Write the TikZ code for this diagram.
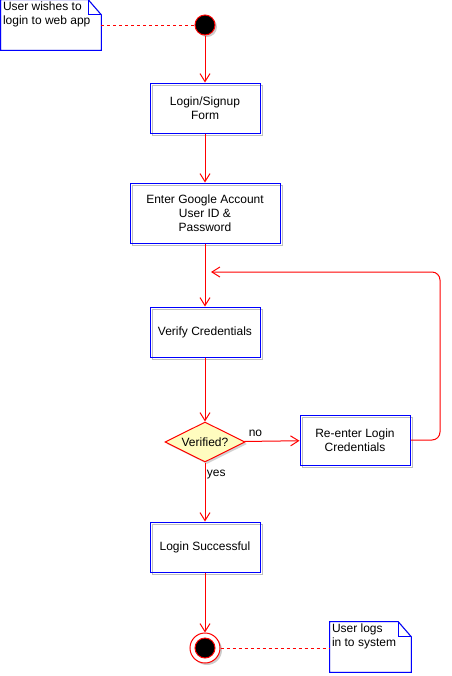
\documentclass[tikz,border=0pt]{standalone}
\usepackage{fontspec}
\setmainfont{Liberation Sans}
\usetikzlibrary{shapes.geometric,arrows.meta,shadows}

\begin{document}
\begin{tikzpicture}[x=0.75pt,y=-0.75pt,
	every node/.style={font=\fontsize{9}{10.5}\selectfont},
	greyshadow/.style={general shadow={shadow xshift=1.5pt,shadow yshift=-1.5pt,draw=gray!50,fill=none}},
	actbox/.style={rectangle,draw=blue,line width=0.75pt,align=center,minimum width=82.5pt,minimum height=37.5pt,inner sep=2pt,greyshadow},
	decision/.style={diamond,aspect=2,draw=red,line width=0.75pt,fill=yellow!25,inner sep=0pt,minimum width=60pt,minimum height=30pt,general shadow={shadow xshift=1.5pt,shadow yshift=-1.5pt,fill=gray!35}},
	startdot/.style={circle,draw=red,line width=0.75pt,fill=black,minimum size=15pt,inner sep=0pt},
	notebox/.style={rectangle,minimum width=75pt,minimum height=37.5pt,inner sep=0pt},
	notetext/.style={align=left,inner sep=1.5pt,anchor=north west},
	flow/.style={draw=red,line width=0.75pt,-{Straight Barb[length=6pt,width=7.5pt]}},
	noteline/.style={draw=red,line width=0.6pt,dash pattern=on 2.25pt off 2.25pt}
]
	\useasboundingbox (0,0) rectangle (451,676);
	% notes
	\node[notebox] (note1) at (51,25) {};
	\draw[gray!50,line width=0.75pt,xshift=1.5pt,yshift=-1.5pt] (note1.north west) -- ([xshift=-9.75pt]note1.north east) -- ([yshift=-11.25pt]note1.north east) -- (note1.south east) -- (note1.south west) -- cycle;
	\draw[blue,line width=0.75pt] (note1.north west) -- ([xshift=-9.75pt]note1.north east) -- ([yshift=-11.25pt]note1.north east) -- (note1.south east) -- (note1.south west) -- cycle;
	\draw[blue,line width=0.75pt] ([xshift=-9.75pt]note1.north east) -- ([xshift=-9.75pt,yshift=-11.25pt]note1.north east) -- ([yshift=-11.25pt]note1.north east);
	\node[notetext] (note1text) at (note1.north west) {User wishes to\\login to web app};
	\node[notebox,minimum width=60.75pt] (note2) at (370.5,647) {};
	\draw[gray!50,line width=0.75pt,xshift=1.5pt,yshift=-1.5pt] (note2.north west) -- ([xshift=-9.75pt]note2.north east) -- ([yshift=-11.25pt]note2.north east) -- (note2.south east) -- (note2.south west) -- cycle;
	\draw[blue,line width=0.75pt] (note2.north west) -- ([xshift=-9.75pt]note2.north east) -- ([yshift=-11.25pt]note2.north east) -- (note2.south east) -- (note2.south west) -- cycle;
	\draw[blue,line width=0.75pt] ([xshift=-9.75pt]note2.north east) -- ([xshift=-9.75pt,yshift=-11.25pt]note2.north east) -- ([yshift=-11.25pt]note2.north east);
	\node[notetext] (note2text) at (note2.north west) {User logs\\in to system};
	% activities
	\node[startdot,general shadow={shadow xshift=1.5pt,shadow yshift=-1.5pt,fill=gray!40,draw=none}] (start) at (205,25) {};
	\node[actbox] (form) at (205,108) {Login/Signup\\Form};
	\node[actbox,minimum width=112.5pt,minimum height=45pt] (enter) at (205,213) {Enter Google Account\\User ID \&\\Password};
	\node[actbox] (verify) at (205,332) {Verify Credentials};
	\node[decision] (check) at (205,442) {Verified?};
	\node[actbox] (reenter) at (355,440) {Re-enter Login\\Credentials};
	\node[actbox] (success) at (205,547) {Login Successful};
	\node[circle,draw=red,line width=0.75pt,fill=white,minimum size=22.5pt,inner sep=0pt,general shadow={shadow xshift=1.5pt,shadow yshift=-1.5pt,fill=gray!40,draw=none}] (stop) at (205,648) {};
	\node[startdot] (stopdot) at (stop) {};
	\coordinate (back) at (211,272);
	% connectors
	\draw[noteline] (note1) -- (start);
	\draw[noteline] (stop) -- (stop -| note2.west);
	\draw[flow] (start) -- (form);
	\draw[flow] (form) -- (enter);
	\draw[flow] (enter) -- (verify);
	\draw[flow] (verify) -- (check);
	\draw[flow] (check) -- node[pos=0.2,above] {no} (reenter);
	\draw[flow] (check) -- node[pos=0.2,right,inner sep=1pt] {yes} (success);
	\draw[flow] (success) -- (stop);
	\draw[flow,rounded corners=6pt] (reenter.east) -- (440,440) -- (440,272) -- (back);
\end{tikzpicture}
\end{document}
